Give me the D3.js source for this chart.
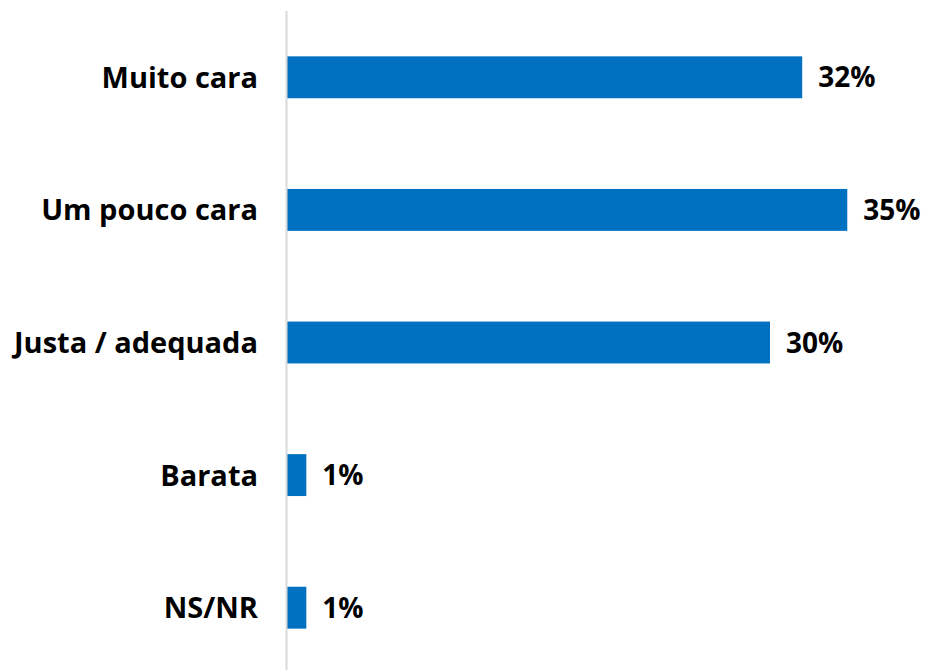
<!DOCTYPE html>
<html>
<head>
<meta charset="utf-8">
<script src="https://cdn.jsdelivr.net/npm/d3@7"></script>
<style>
  body { margin: 0; background: #fff; }
  text { font-family: "Open Sans", Lato, sans-serif; font-weight: bold; fill: #000; }
</style>
</head>
<body>
<svg class="chart"></svg>
<script>
// Categories and their shares (%), top to bottom.
var categories = ["Muito cara", "Um pouco cara", "Justa / adequada", "Barata", "NS/NR"];
var values = [32, 34.8, 30, 1.2, 1.2];
var valueLabels = ["32%", "35%", "30%", "1%", "1%"];

window.onload = function () {

    var width = 928;
    var height = 670;
    var axisX = 287; // left edge of the bars

    var svg = d3.select("svg.chart")
        .attr("width", width)
        .attr("height", height);

    var x = d3.scaleLinear()
        .domain([0, 40])
        .range([axisX, axisX + 644]);

    var y = d3.scaleBand()
        .domain(categories)
        .range([11, 674])
        .paddingInner(0.684)
        .paddingOuter(0.342);

    var rows = categories.map(function (c, i) {
        return { name: c, value: values[i], label: valueLabels[i] };
    });

    // bars
    svg.selectAll("rect.bar")
        .data(rows)
        .enter()
        .append("rect")
            .attr("class", "bar")
            .attr("x", x(0))
            .attr("y", d => y(d.name))
            .attr("width", d => x(d.value) - x(0))
            .attr("height", y.bandwidth())
            .attr("fill", "#0070C0");

    // vertical axis line
    svg.append("line")
        .attr("x1", axisX - 0.5)
        .attr("x2", axisX - 0.5)
        .attr("y1", 11)
        .attr("y2", height)
        .attr("stroke", "#d9d9d9")
        .attr("stroke-width", 2);

    // category labels
    svg.selectAll("text.cat")
        .data(rows)
        .enter()
        .append("text")
            .attr("class", "cat")
            .attr("x", axisX - 29)
            .attr("y", d => y(d.name) + y.bandwidth() / 2)
            .attr("dy", "0.36em")
            .attr("text-anchor", "end")
            .attr("font-size", 29)
            .text(d => d.name);

    // value labels
    svg.selectAll("text.val")
        .data(rows)
        .enter()
        .append("text")
            .attr("class", "val")
            .attr("x", d => x(d.value) + 16)
            .attr("y", d => y(d.name) + y.bandwidth() / 2)
            .attr("dy", "0.36em")
            .attr("font-size", 28)
            .text(d => d.label);
};
</script>
</body>
</html>
